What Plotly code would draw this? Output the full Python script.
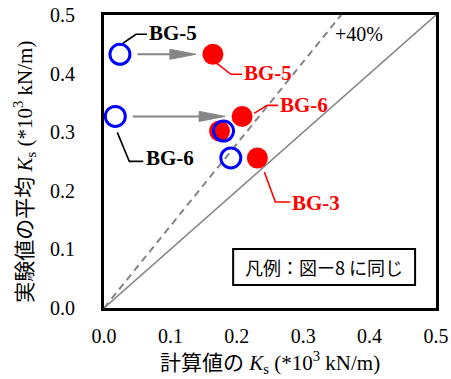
import plotly.graph_objects as go

# Specimen values (x: calculated Ks, y: mean experimental Ks), units *10^3 kN/m
specimens = ["BG-5", "BG-6", "BG-x", "BG-3"]
exp_avg = [0.433, 0.327, 0.302, 0.256]
calc_before = [0.024, 0.017, 0.180, 0.191]
calc_after = [0.164, 0.208, 0.174, 0.231]

ref_x = [0.0, 0.5]          # 1:1 line
upper_ratio = 1.4           # +40 % line
tick_vals = [0.0, 0.1, 0.2, 0.3, 0.4, 0.5]

SERIF = '"Liberation Serif", "Noto Sans CJK JP", serif'
GOTHIC = '"Noto Sans CJK JP", sans-serif'
GRAY = "#858585"
RED = "#ff0000"
BLUE = "#0000ff"

fig = go.Figure()

# reference lines
fig.add_trace(go.Scatter(x=ref_x, y=ref_x, mode="lines",
                         line=dict(color=GRAY, width=1.6), hoverinfo="skip"))
x40 = [0.0, ref_x[1] / upper_ratio]
fig.add_trace(go.Scatter(x=x40, y=[v * upper_ratio for v in x40], mode="lines",
                         line=dict(color=GRAY, width=2, dash="7px,5px"), hoverinfo="skip"))

# calculated after (filled red) then before (open blue) on top
fig.add_trace(go.Scatter(x=calc_after, y=exp_avg, mode="markers",
                         marker=dict(size=21, color=RED, line=dict(width=0)),
                         hoverinfo="skip"))
fig.add_trace(go.Scatter(x=calc_before, y=exp_avg, mode="markers",
                         marker=dict(size=20, color="rgba(0,0,0,0)",
                                     line=dict(color=BLUE, width=3)),
                         hoverinfo="skip"))

shapes = []
annotations = []

# gray shift arrows for BG-5 and BG-6
for i in (0, 1):
    annotations.append(dict(x=calc_after[i], y=exp_avg[i], ax=calc_before[i], ay=exp_avg[i],
                            xref="x", yref="y", axref="x", ayref="y", text="",
                            showarrow=True, arrowhead=0, arrowwidth=2, arrowcolor=GRAY,
                            standoff=40, startstandoff=16))
    shapes.append(dict(type="path", xref="x", yref="y", xsizemode="pixel", ysizemode="pixel",
                       xanchor=calc_after[i], yanchor=exp_avg[i],
                       path="M -17,0 L -43,5 L -43,-5 Z",
                       fillcolor=GRAY, line=dict(color=GRAY, width=1)))

# leader lines + labels: (series x, index, color, leader path, text dx, text dy)
labels = [
    (calc_before, 0, "black", "M 3,11 L 16,20 L 27,20", 27, 21),
    (calc_before, 1, "black", "M 2,-16 L 14,-45 L 28,-45", 29, -42),
    (calc_after, 0, RED, "M 4,-9 L 18,-20 L 29,-20", 29, -19),
    (calc_after, 1, RED, "M 12,3 L 25,11 L 36,11", 36, 11),
    (calc_after, 3, RED, "M 7,-14 L 18,-44 L 33,-44", 33, -45),
]
for xs, i, col, path, dx, dy in labels:
    shapes.append(dict(type="path", xref="x", yref="y", xsizemode="pixel", ysizemode="pixel",
                       xanchor=xs[i], yanchor=exp_avg[i], path=path,
                       line=dict(color=col, width=1.6)))
    annotations.append(dict(x=xs[i], y=exp_avg[i], xref="x", yref="y", text=specimens[i],
                            showarrow=False, xanchor="left", yanchor="middle",
                            xshift=dx, yshift=dy,
                            font=dict(family=SERIF, size=21, color=col, weight="bold")))

# +40% note
annotations.append(dict(x=0.69, y=0.935, xref="paper", yref="paper", text="+40%",
                        showarrow=False, xanchor="left", yanchor="middle",
                        font=dict(family=SERIF, size=20, color="black")))

# legend note box
shapes.append(dict(type="rect", xref="paper", yref="paper", x0=0.389, x1=0.937,
                   y0=0.0785, y1=0.201, line=dict(color="black", width=2),
                   fillcolor="white"))
annotations.append(dict(x=0.663, y=0.14, xref="paper", yref="paper",
                        text="凡例：図ー8 に同じ", showarrow=False,
                        xanchor="center", yanchor="middle",
                        font=dict(family=GOTHIC, size=18, color="black")))

# axis titles
annotations.append(dict(x=0.5, y=0, xref="paper", yref="paper",
                        text="計算値の <i>K</i><sub>s</sub> (*10<sup>3</sup> kN/m)",
                        showarrow=False, xanchor="center", yanchor="middle", yshift=-54,
                        font=dict(family=SERIF, size=21, color="black")))
annotations.append(dict(x=0, y=0.465, xref="paper", yref="paper",
                        text="実験値の平均 <i>K</i><sub>s</sub> (*10<sup>3</sup> kN/m)",
                        showarrow=False, textangle=-90, xanchor="center", yanchor="middle",
                        xshift=-79,
                        font=dict(family=SERIF, size=21, color="black")))

axis_common = dict(range=[0, 0.5], tickvals=tick_vals, tickformat=".1f",
                   showgrid=False, zeroline=False, showline=True, linecolor="black",
                   linewidth=3, mirror=True, ticks="", automargin=False,
                   tickfont=dict(family=SERIF, size=20, color="black"))

fig.update_layout(
    width=451, height=379,
    margin=dict(l=104, r=15, t=15, b=71),
    paper_bgcolor="white", plot_bgcolor="white",
    showlegend=False,
    xaxis=dict(**axis_common, ticklabelstandoff=8),
    yaxis=dict(**axis_common, ticklabelstandoff=22),
    shapes=shapes, annotations=annotations,
)

fig.write_html("out.html")
